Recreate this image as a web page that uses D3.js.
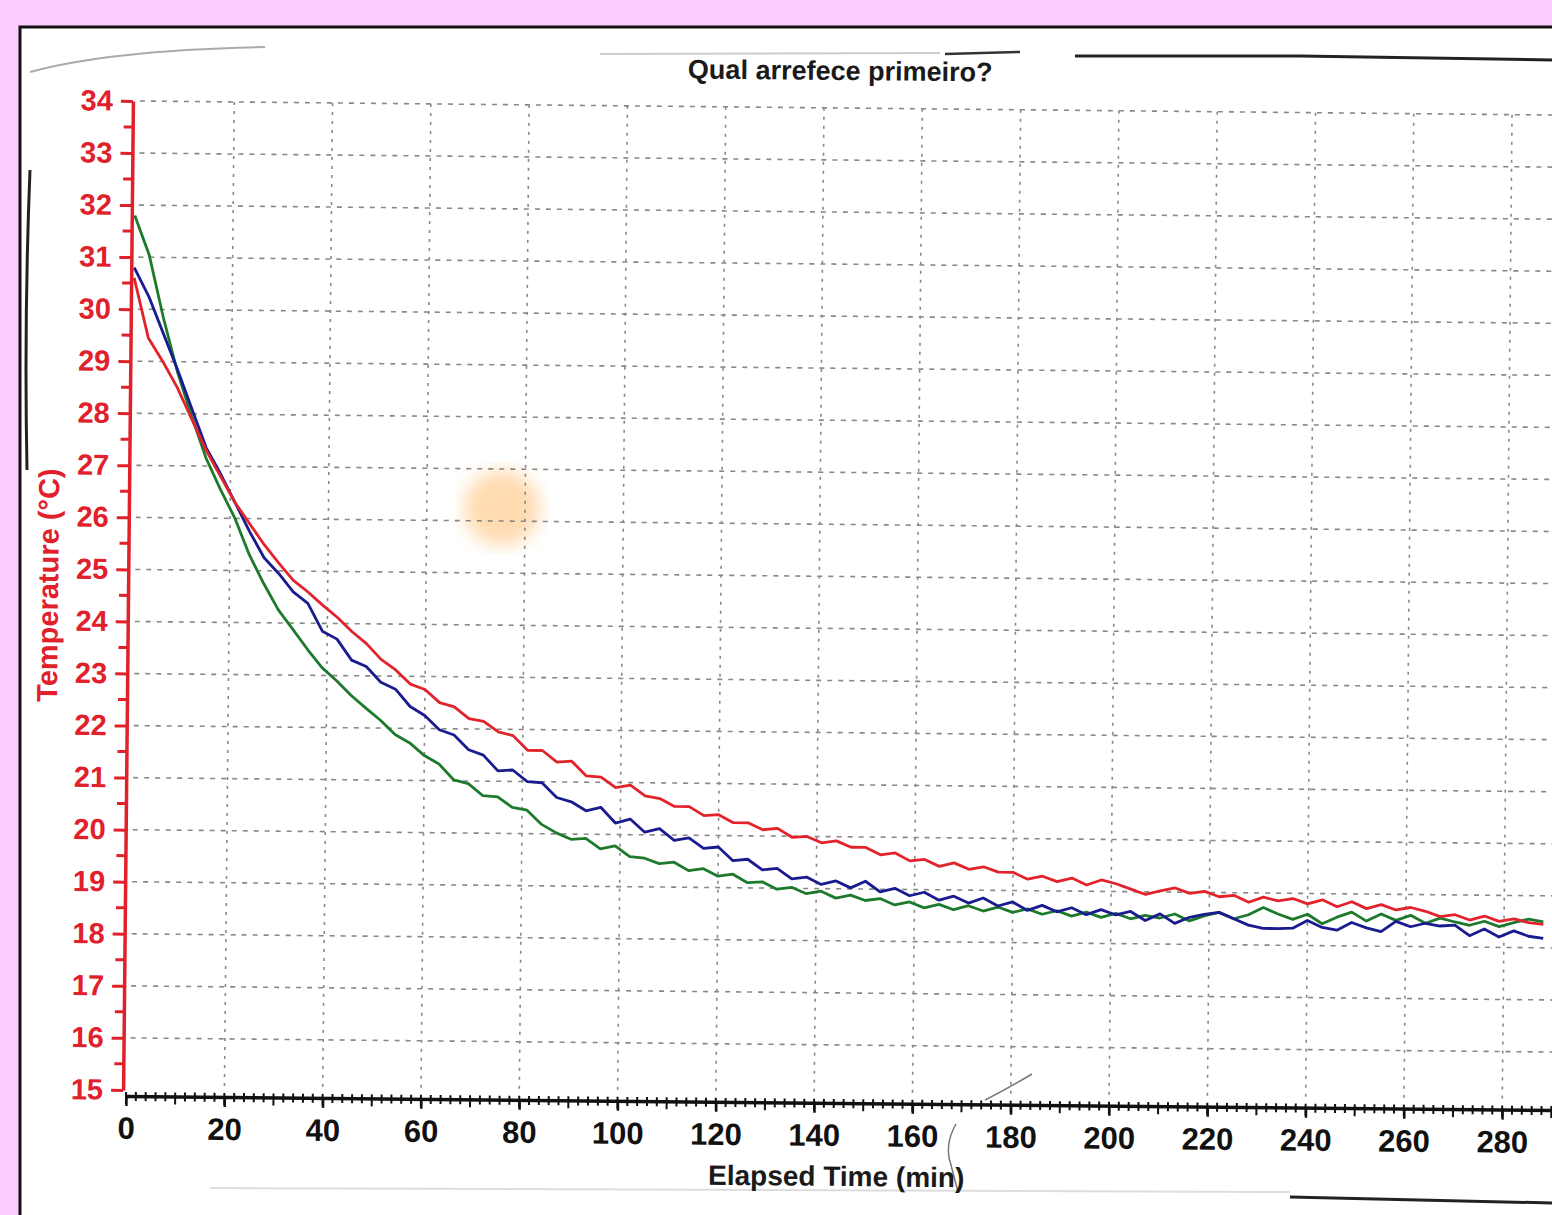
<!DOCTYPE html>
<html>
<head>
<meta charset="utf-8">
<script src="https://cdn.jsdelivr.net/npm/d3@7.9.0/dist/d3.min.js"></script>
<style>
  html, body { margin: 0; padding: 0; background: #fccafc; }
  svg { display: block; }
  text { font-family: "Liberation Sans", Arial, sans-serif; font-weight: bold; }
</style>
</head>
<body>
<svg id="chart" width="1552" height="1215"></svg>
<script>
// sample times (min), one reading every 3 minutes
const minutes = d3.range(0, 289, 3);

const red = [
  30.6, 29.45, 29.0, 28.5, 27.9, 27.3, 26.8, 26.3, 25.9, 25.5,
  25.15, 24.82, 24.6, 24.35, 24.12, 23.85, 23.62, 23.32, 23.12, 22.85,
  22.75, 22.5, 22.42, 22.2, 22.15, 21.95, 21.88, 21.6, 21.6, 21.38,
  21.4, 21.12, 21.1, 20.9, 20.95, 20.75, 20.7, 20.55, 20.55, 20.38,
  20.4, 20.25, 20.25, 20.12, 20.15, 19.98, 20.0, 19.88, 19.92, 19.8,
  19.8, 19.66, 19.7, 19.55, 19.58, 19.45, 19.52, 19.4, 19.45, 19.35,
  19.35, 19.22, 19.28, 19.18, 19.25, 19.12, 19.22, 19.15, 19.05, 18.95,
  19.02, 19.08, 18.98, 19.02, 18.92, 18.95, 18.82, 18.92, 18.85, 18.9,
  18.8, 18.88, 18.75, 18.85, 18.72, 18.8, 18.7, 18.75, 18.68, 18.58,
  18.62, 18.52, 18.6, 18.5, 18.55, 18.48, 18.45
];

const blue = [
  30.8, 30.25, 29.55, 28.85, 28.1, 27.35, 26.85, 26.3, 25.75, 25.25,
  24.95, 24.6, 24.38, 23.85, 23.7, 23.3, 23.18, 22.88, 22.75, 22.42,
  22.25, 21.98, 21.88, 21.6, 21.5, 21.2, 21.22, 21.0, 20.98, 20.7,
  20.62, 20.45, 20.52, 20.22, 20.3, 20.05, 20.12, 19.9, 19.95, 19.75,
  19.78, 19.52, 19.55, 19.35, 19.38, 19.18, 19.22, 19.08, 19.15, 19.02,
  19.15, 18.95, 19.02, 18.88, 18.95, 18.8, 18.88, 18.75, 18.85, 18.7,
  18.78, 18.62, 18.72, 18.6, 18.68, 18.55, 18.65, 18.55, 18.62, 18.45,
  18.58, 18.4, 18.52, 18.58, 18.62, 18.5, 18.38, 18.32, 18.32, 18.33,
  18.48, 18.35, 18.3, 18.45, 18.35, 18.28, 18.48, 18.38, 18.45, 18.4,
  18.42, 18.22, 18.35, 18.2, 18.32, 18.22, 18.18
];

const green = [
  31.8, 31.05, 29.85, 28.8, 27.95, 27.15, 26.55, 26.0, 25.3, 24.75,
  24.25, 23.88, 23.5, 23.15, 22.9, 22.62, 22.38, 22.15, 21.88, 21.72,
  21.48, 21.32, 21.02, 20.95, 20.72, 20.7, 20.5, 20.45, 20.18, 20.02,
  19.9, 19.92, 19.72, 19.78, 19.58, 19.55, 19.45, 19.48, 19.32, 19.36,
  19.22, 19.26, 19.1, 19.12, 18.98, 19.02, 18.9, 18.95, 18.82, 18.88,
  18.78, 18.82, 18.7, 18.76, 18.65, 18.72, 18.62, 18.7, 18.6, 18.68,
  18.58, 18.65, 18.55, 18.62, 18.52, 18.6, 18.5, 18.58, 18.48, 18.55,
  18.5, 18.58, 18.45, 18.55, 18.62, 18.5, 18.58, 18.72, 18.6, 18.5,
  18.6, 18.42, 18.55, 18.65, 18.48, 18.62, 18.5, 18.6, 18.45, 18.55,
  18.48, 18.42, 18.5, 18.4, 18.48, 18.55, 18.5
];

const xTicks = [0, 20, 40, 60, 80, 100, 120, 140, 160, 180, 200, 220, 240, 260, 280];
const yTicks = [15, 16, 17, 18, 19, 20, 21, 22, 23, 24, 25, 26, 27, 28, 29, 30, 31, 32, 33, 34];

const title = "Qual arrefece primeiro?";
const xTitle = "Elapsed Time (min)";
const yTitle = "Temperature (°C)";

const axisRed = "#e0202a";

const svg = d3.select("#chart");

// white scanned sheet with black border
svg.append("rect")
  .attr("x", 20).attr("y", 27)
  .attr("width", 1600).attr("height", 1300)
  .attr("fill", "#ffffff")
  .attr("stroke", "#111")
  .attr("stroke-width", 3);

// a few marks left by the scanner
let blur = svg.append("defs").append("filter").attr("id", "blur");
blur.append("feGaussianBlur").attr("stdDeviation", 9);
svg.append("circle").attr("cx", 502).attr("cy", 508).attr("r", 38)
  .attr("fill", "#ffcf95").attr("opacity", 0.75).attr("filter", "url(#blur)");

const smudges = [
  {d: "M30,72 Q110,50 265,47", c: "#aaa", w: 2},
  {d: "M600,54 L940,53", c: "#ccc", w: 2},
  {d: "M945,54 L1020,52", c: "#333", w: 2.5},
  {d: "M1075,56 L1300,56 L1552,60", c: "#222", w: 3},
  {d: "M30,170 Q24,320 27,470", c: "#222", w: 3},
  {d: "M210,1188 L1290,1192", c: "#ddd", w: 2},
  {d: "M1290,1197 L1552,1203", c: "#222", w: 3},
  {d: "M1032,1074 Q1005,1090 985,1100", c: "#777", w: 1.5},
  {d: "M956,1124 Q944,1145 951,1165 L958,1192", c: "#777", w: 1.5}
];
svg.selectAll("path.smudge").data(smudges).join("path")
  .attr("class", "smudge")
  .attr("d", d => d.d)
  .attr("fill", "none")
  .attr("stroke", d => d.c)
  .attr("stroke-width", d => d.w);

// the scan is slightly tilted
const g = svg.append("g").attr("transform", "rotate(0.57 840 600)");

const x = d3.scaleLinear().domain([0, 300]).range([131, 131 + 300 * 4.915]);
const y = d3.scaleLinear().domain([15, 34]).range([1097, 108]);

// grid
g.append("g").selectAll("line").data(yTicks.slice(1)).join("line")
  .attr("x1", x(0) + 4).attr("x2", x(300))
  .attr("y1", d => y(d)).attr("y2", d => y(d))
  .attr("stroke", "#888").attr("stroke-width", 1.6)
  .attr("stroke-dasharray", "5,6");

g.append("g").selectAll("line").data(xTicks.slice(1)).join("line")
  .attr("x1", d => x(d)).attr("x2", d => x(d))
  .attr("y1", y(34)).attr("y2", y(15))
  .attr("stroke", "#888").attr("stroke-width", 1.6)
  .attr("stroke-dasharray", "3,6");

// x axis
const xBase = y(15) + 6;
const xAxis = d3.axisBottom(x)
  .tickValues(xTicks)
  .tickSize(10)
  .tickPadding(11)
  .tickSizeOuter(0)
  .tickFormat(d3.format("d"));

let xg = g.append("g").attr("transform", `translate(0,${xBase})`).call(xAxis);
xg.select(".domain").attr("stroke", "#111").attr("stroke-width", 3.5);
xg.selectAll(".tick line").attr("stroke", "#111").attr("stroke-width", 2.5);
xg.selectAll(".tick text")
  .attr("fill", "#111")
  .attr("font-size", 31)
  .attr("font-family", "Liberation Sans, Arial, sans-serif")
  .attr("font-weight", "bold");

xg.selectAll("line.minor").data(d3.range(0, 300, 2)).join("line")
  .attr("class", "minor")
  .attr("x1", d => x(d)).attr("x2", d => x(d))
  .attr("y1", -4).attr("y2", d => d % 10 === 0 ? 8 : 5)
  .attr("stroke", "#111").attr("stroke-width", 2);

// y axis
const yAxis = d3.axisLeft(y)
  .tickValues(yTicks)
  .tickSize(12)
  .tickPadding(8)
  .tickSizeOuter(0);

let yg = g.append("g").attr("transform", `translate(${x(0) - 3},0)`).call(yAxis);
yg.select(".domain").attr("stroke", axisRed).attr("stroke-width", 3.5);
yg.selectAll(".tick line").attr("stroke", axisRed).attr("stroke-width", 3);
yg.selectAll(".tick text")
  .attr("fill", axisRed)
  .attr("font-size", 29)
  .attr("font-family", "Liberation Sans, Arial, sans-serif")
  .attr("font-weight", "bold");

yg.selectAll("line.minor").data(yTicks.slice(0, -1).map(d => d + 0.5)).join("line")
  .attr("class", "minor")
  .attr("x1", -9).attr("x2", 0)
  .attr("y1", d => y(d)).attr("y2", d => y(d))
  .attr("stroke", axisRed).attr("stroke-width", 3);

// series
const line = d3.line()
  .x((d, i) => x(minutes[i]))
  .y(d => y(d));

const series = [
  {name: "green", values: green, color: "#1d7a2c"},
  {name: "blue", values: blue, color: "#1b1b90"},
  {name: "red", values: red, color: "#e3232b"}
];

g.selectAll("path.series").data(series).join("path")
  .attr("class", "series")
  .attr("d", d => line(d.values))
  .attr("fill", "none")
  .attr("stroke", d => d.color)
  .attr("stroke-width", 2.8)
  .attr("stroke-linejoin", "round");

// titles
g.append("text")
  .attr("x", 835).attr("y", 80)
  .attr("text-anchor", "middle")
  .attr("font-size", 27)
  .attr("fill", "#1a1a1a")
  .text(title);

g.append("text")
  .attr("x", 842).attr("y", 1186)
  .attr("text-anchor", "middle")
  .attr("font-size", 28)
  .attr("fill", "#1a1a1a")
  .text(xTitle);

g.append("text")
  .attr("transform", "translate(58,593) rotate(-90)")
  .attr("text-anchor", "middle")
  .attr("font-size", 29)
  .attr("fill", axisRed)
  .text(yTitle);
</script>
</body>
</html>
